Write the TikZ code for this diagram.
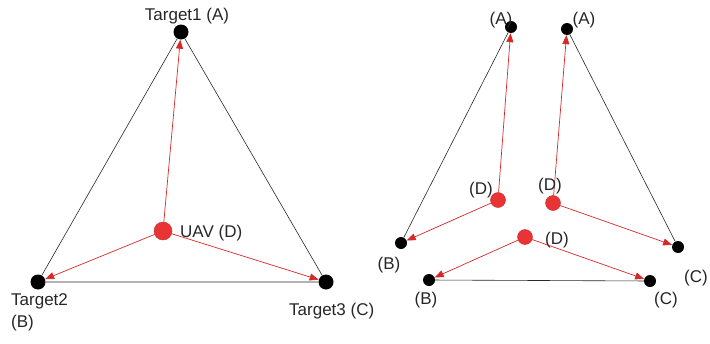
\documentclass[tikz,border=0pt]{standalone}
\usepackage{fontspec}
\setmainfont{Liberation Sans}
\usetikzlibrary{arrows.meta}
\definecolor{dotred}{RGB}{232,52,52}
\definecolor{arrred}{RGB}{215,40,40}
\definecolor{edgegray}{RGB}{40,40,40}
\begin{document}
\begin{tikzpicture}[x=1pt,y=-1pt,
  tgt/.style={circle,fill=black,inner sep=0pt,minimum size=#1},
  tgt/.default=15pt,
  uav/.style={circle,fill=dotred,draw=dotred!85!black,line width=0.4pt,inner sep=0pt,minimum size=#1},
  uav/.default=18pt,
  edge/.style={draw=edgegray,line width=0.6pt},
  move/.style={draw=arrred,line width=0.7pt,-{Triangle[length=9pt,width=7pt]}},
  lbl/.style={font=\fontsize{17}{19}\selectfont,text=black!85,inner sep=0pt}]
\useasboundingbox (0,0) rectangle (710,343);
% ---- left triangle ----
\node[tgt] (A1) at (181,32) {};
\node[tgt] (B1) at (38,282) {};
\node[tgt] (C1) at (326,282) {};
\node[uav] (D1) at (163,231) {};
\draw[edge] (A1) -- (B1) -- (C1) -- (A1);
\draw[move] (D1) -- (A1);
\draw[move] (D1) -- (B1);
\draw[move] (D1) -- (C1);
\node[lbl] (lA1) at (187,16) {Target1 (A)};
\node[lbl,anchor=west] (lD1) at (180,233) {UAV (D)};
\node[lbl,anchor=west] (lB1a) at (11,301) {Target2};
\node[lbl,anchor=west] (lB1b) at (11,323) {(B)};
\node[lbl,anchor=west] (lC1) at (289,311) {Target3 (C)};
% ---- right: A-B part ----
\node[tgt=12pt] (A2) at (511,27) {};
\node[tgt=12pt] (B2) at (401,243) {};
\node[uav=15pt] (D2) at (498,200) {};
\draw[edge] (A2) -- (B2);
\draw[move] (D2) -- (A2);
\draw[move] (D2) -- (B2);
\node[lbl] (lA2) at (501,20) {(A)};
\node[lbl] (lB2) at (389,265) {(B)};
\node[lbl] (lD2) at (481,190) {(D)};
% ---- right: A-C part ----
\node[tgt=12pt] (A3) at (567,29) {};
\node[tgt=12pt] (C3) at (678,247) {};
\node[uav=15pt] (D3) at (553,203) {};
\draw[edge] (A3) -- (C3);
\draw[move] (D3) -- (A3);
\draw[move] (D3) -- (C3);
\node[lbl] (lA3) at (584,20) {(A)};
\node[lbl] (lC3) at (696,278) {(C)};
\node[lbl] (lD3) at (550,186) {(D)};
% ---- right: B-C part ----
\node[tgt=12pt] (B4) at (429,280) {};
\node[tgt=12pt] (C4) at (650,281) {};
\node[uav=15pt] (D4) at (525,237) {};
\draw[edge] (B4) -- (C4);
\draw[move] (D4) -- (B4);
\draw[move] (D4) -- (C4);
\node[lbl] (lB4) at (426,300) {(B)};
\node[lbl] (lC4) at (666,300) {(C)};
\node[lbl] (lD4) at (557,240) {(D)};
\end{tikzpicture}
\end{document}
